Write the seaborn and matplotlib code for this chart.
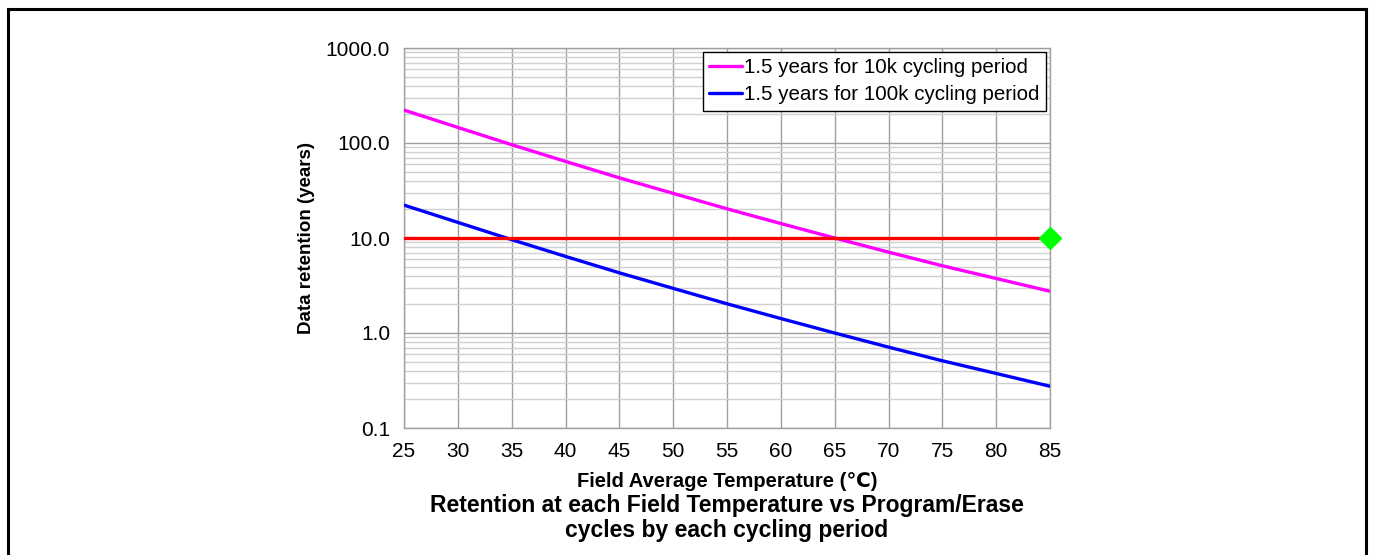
import matplotlib
matplotlib.use("Agg")
import matplotlib.pyplot as plt
import matplotlib.font_manager as fm
from matplotlib.lines import Line2D
from matplotlib.ticker import FixedLocator, FormatStrFormatter, LogLocator, NullFormatter
import seaborn as sns
import pandas as pd

temps = [25, 30, 35, 40, 45, 50, 55, 60, 65, 70, 75, 80, 85]
ret_10k = [222, 146, 96, 64, 43, 29.5, 20.3, 14.2, 10.0, 7.1, 5.1, 3.75, 2.75]
ret_100k = [22.2, 14.6, 9.6, 6.4, 4.3, 2.95, 2.03, 1.42, 1.0, 0.71, 0.51, 0.375, 0.275]
label_10k = "1.5 years for 10k cycling period"
label_100k = "1.5 years for 100k cycling period"
target_years = 10.0
target_temp = 85
y_ticks = [0.1, 1.0, 10.0, 100.0, 1000.0]
x_ticks = [25, 30, 35, 40, 45, 50, 55, 60, 65, 70, 75, 80, 85]

sns.set_style("white")
names = {f.name for f in fm.fontManager.ttflist}
narrow = "Liberation Sans Narrow" if "Liberation Sans Narrow" in names else "Liberation Sans"
plt.rcParams['font.family'] = ['Liberation Sans', 'DejaVu Sans']
for k in ["text.color", "axes.labelcolor", "xtick.color", "ytick.color"]:
    plt.rcParams[k] = "black"

df = pd.DataFrame({
    "temp": temps * 2,
    "ret": ret_10k + ret_100k,
    "series": [label_10k] * len(temps) + [label_100k] * len(temps),
})

fig = plt.figure(figsize=(13.73, 5.55), dpi=100)
ax = fig.add_axes([404/1373, 1-428/555, (1050-404)/1373, (428-48)/555])

sns.lineplot(data=df, x="temp", y="ret", hue="series",
             palette={label_10k: "#ff00ff", label_100k: "#0000ff"},
             linewidth=2.4, ax=ax, zorder=3)
ax.plot([temps[0], temps[-1]], [target_years, target_years], color="#ff0000", lw=2.4, zorder=4)
ax.plot([target_temp], [target_years], marker="D", markersize=11, color="#00ff00",
        linestyle="none", clip_on=False, zorder=5)

ax.set_yscale("log")
ax.set_xlim(25, 85)
ax.set_ylim(0.1, 1000)
ax.xaxis.set_major_locator(FixedLocator(x_ticks))
ax.yaxis.set_major_locator(FixedLocator(y_ticks))
ax.yaxis.set_major_formatter(FormatStrFormatter("%.1f"))
ax.yaxis.set_minor_locator(LogLocator(base=10, subs=range(2, 10)))
ax.yaxis.set_minor_formatter(NullFormatter())
ax.grid(True, which="major", axis="both", color="#a0a0a0", lw=1.0, zorder=1)
ax.grid(True, which="minor", axis="y", color="#d0d0d0", lw=1.0, zorder=1)
ax.tick_params(axis="both", which="both", length=0, labelsize=15, pad=10)
for s in ax.spines.values():
    s.set_color("#a0a0a0")
    s.set_linewidth(1.0)

ax.set_xlabel("Field Average Temperature (℃)", fontsize=14.5, fontweight="bold",
              family=[narrow, 'DejaVu Sans'], labelpad=8)
ax.set_ylabel("Data retention (years)", fontsize=13.5, fontweight="bold", labelpad=8)

h, l = ax.get_legend_handles_labels()
leg = ax.legend(h, l, loc="upper right", fontsize=14.8, frameon=True, fancybox=False,
                edgecolor="black", framealpha=1, handlelength=1.6, handletextpad=0.1,
                borderpad=0.3, labelspacing=0.4, borderaxespad=0.2)
leg.get_frame().set_linewidth(1.0)

fig.text(727/1373, 1-518/555,
         "Retention at each Field Temperature vs Program/Erase\ncycles by each cycling period",
         ha="center", va="center", fontsize=16.5, fontweight="bold",
         family=[narrow, 'DejaVu Sans'], linespacing=1.1)

# outer frame (open at the bottom)
fx0, fx1, fy1 = 7.5/1373, 1366/1373, 1-9/555
for xs, ys in [([fx0, fx0], [-0.1, fy1]), ([fx0, fx1], [fy1, fy1]), ([fx1, fx1], [fy1, -0.1])]:
    fig.add_artist(Line2D(xs, ys, transform=fig.transFigure, color="black", lw=2.2,
                          solid_capstyle="projecting"))

fig.savefig("out.png", dpi=100)
